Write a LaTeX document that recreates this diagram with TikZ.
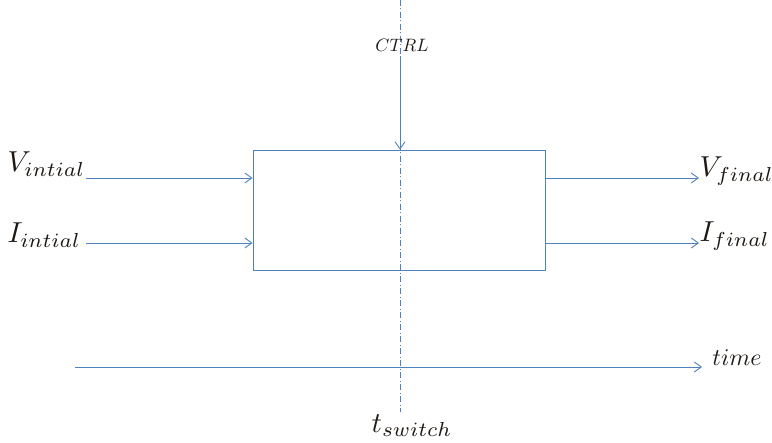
\documentclass[tikz,border=0pt]{standalone}
\usetikzlibrary{arrows.meta}
\definecolor{lineblue}{RGB}{79,129,189}
\definecolor{inkdark}{RGB}{30,25,20}
\tikzset{
  wire/.style={draw=lineblue, line width=0.9bp, -{Straight Barb[length=7bp,width=10bp,line width=0.9bp]}},
  plain/.style={draw=lineblue, line width=0.9bp},
  centerline/.style={draw=lineblue, line width=0.8bp, dash pattern=on 6bp off 2.5bp on 1bp off 2.5bp},
  lbl/.style={inner sep=0pt, text=inkdark},
  biglbl/.style={lbl, scale=2.9},
  midlbl/.style={lbl, scale=2.4},
  smalllbl/.style={lbl, scale=1.8},
}
\begin{document}
\begin{tikzpicture}[x=1bp,y=-1bp]
  \useasboundingbox (0,0) rectangle (772,443);

  % switching block
  \node[plain, draw, minimum width=292bp, minimum height=120bp, inner sep=0pt] (blk) at (399,210) {};

  % switching instant
  \coordinate (ctop) at (400,0);
  \coordinate (cbot) at (400,412);
  \draw[centerline] (ctop) -- (cbot);

  % control input
  \node[smalllbl, anchor=base] (ctrl) at (402,52) {$CTRL$};
  \coordinate (ctrlstart) at (400,56);
  \draw[wire] (ctrlstart) -- (blk.north -| ctrlstart);

  % inputs
  \node[biglbl, anchor=base west] (vin) at (7,172) {$V_{intial}$};
  \node[biglbl, anchor=base west] (iin) at (7,243) {$I_{intial}$};
  \coordinate (vins) at (86,178);
  \coordinate (iins) at (86,243);
  \draw[wire] (vins) -- (vins -| blk.west);
  \draw[wire] (iins) -- (iins -| blk.west);

  % outputs
  \node[biglbl, anchor=base west] (vout) at (699,177) {$V_{final}$};
  \node[biglbl, anchor=base west] (iout) at (699,242) {$I_{final}$};
  \draw[wire] (vins -| blk.east) -- (vout.base west |- vins);
  \draw[wire] (iins -| blk.east) -- (iout.base west |- iins);

  % time axis
  \coordinate (tstart) at (75,367);
  \coordinate (tend) at (702,367);
  \draw[wire] (tstart) -- (tend);
  \node[midlbl, anchor=base west] (time) at (712,366) {$time$};
  \node[biglbl, anchor=base] (tsw) at (412,432) {$t_{switch}$};
\end{tikzpicture}
\end{document}
